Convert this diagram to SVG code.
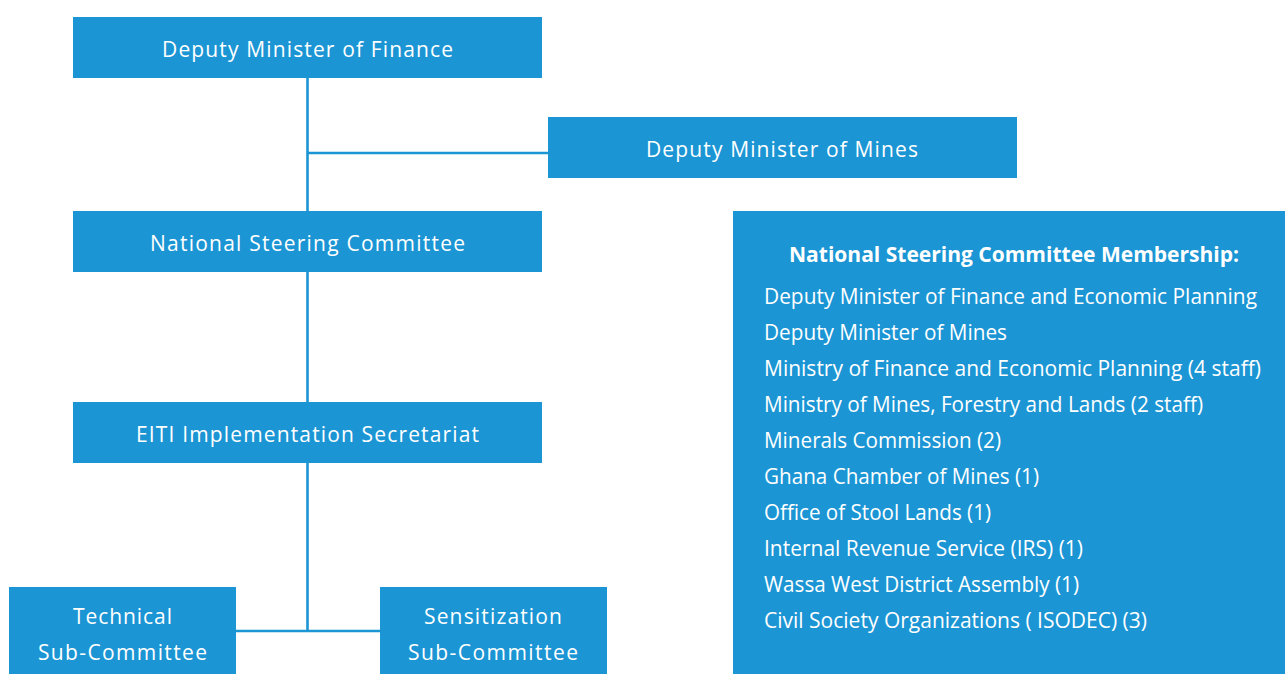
<svg xmlns="http://www.w3.org/2000/svg" width="1285" height="674" viewBox="0 0 1285 674">
<style>
.box{fill:#1b95d4}
.lbl{font-family:"Open Sans","Liberation Sans",sans-serif;font-size:21px;fill:#fff;text-anchor:middle}
.mem{font-family:"Open Sans","Liberation Sans",sans-serif;font-size:21px;fill:#fff}
.ttl{font-family:"Open Sans","Liberation Sans",sans-serif;font-size:21px;font-weight:bold;fill:#fff;text-anchor:middle}
.con{stroke:#1b95d4;stroke-width:2.6;fill:none}
</style>
<rect width="1285" height="674" fill="#fff"/>
<g id="connectors">
<line class="con" x1="307.5" y1="78" x2="307.5" y2="631"/>
<line class="con" x1="307.5" y1="153" x2="548" y2="153"/>
<line class="con" x1="236" y1="631" x2="380" y2="631"/>
</g>
<g id="deputy-finance">
<rect class="box" x="73" y="17" width="469" height="61"/>
<text class="lbl" x="307.5" y="57" textLength="291" lengthAdjust="spacing">Deputy Minister of Finance</text>
</g>
<g id="deputy-mines">
<rect class="box" x="548" y="117" width="469" height="61"/>
<text class="lbl" x="782" y="157" textLength="272" lengthAdjust="spacing">Deputy Minister of Mines</text>
</g>
<g id="nsc">
<rect class="box" x="73" y="211" width="469" height="61"/>
<text class="lbl" x="307.5" y="251" textLength="315" lengthAdjust="spacing">National Steering Committee</text>
</g>
<g id="eiti">
<rect class="box" x="73" y="402" width="469" height="61"/>
<text class="lbl" x="307.5" y="442" textLength="343" lengthAdjust="spacing">EITI Implementation Secretariat</text>
</g>
<g id="technical">
<rect class="box" x="9" y="587" width="227" height="87"/>
<text class="lbl" x="122.5" y="624" textLength="99" lengthAdjust="spacing">Technical</text>
<text class="lbl" x="122.5" y="660" textLength="169" lengthAdjust="spacing">Sub-Committee</text>
</g>
<g id="sensitization">
<rect class="box" x="380" y="587" width="227" height="87"/>
<text class="lbl" x="493" y="624" textLength="138" lengthAdjust="spacing">Sensitization</text>
<text class="lbl" x="493" y="660" textLength="170" lengthAdjust="spacing">Sub-Committee</text>
</g>
<g id="membership">
<rect class="box" x="733" y="211" width="552" height="463"/>
<text class="ttl" x="1014" y="262" textLength="450" lengthAdjust="spacingAndGlyphs">National Steering Committee Membership:</text>
<text class="mem" x="764" y="304" textLength="493" lengthAdjust="spacingAndGlyphs">Deputy Minister of Finance and Economic Planning</text>
<text class="mem" x="764" y="340" textLength="243" lengthAdjust="spacingAndGlyphs">Deputy Minister of Mines</text>
<text class="mem" x="764" y="376" textLength="497" lengthAdjust="spacingAndGlyphs">Ministry of Finance and Economic Planning (4 staff)</text>
<text class="mem" x="764" y="412" textLength="439" lengthAdjust="spacingAndGlyphs">Ministry of Mines, Forestry and Lands (2 staff)</text>
<text class="mem" x="764" y="448" textLength="237" lengthAdjust="spacingAndGlyphs">Minerals Commission (2)</text>
<text class="mem" x="764" y="484" textLength="275" lengthAdjust="spacingAndGlyphs">Ghana Chamber of Mines (1)</text>
<text class="mem" x="764" y="520" textLength="227" lengthAdjust="spacingAndGlyphs">Office of Stool Lands (1)</text>
<text class="mem" x="764" y="556" textLength="319" lengthAdjust="spacingAndGlyphs">Internal Revenue Service (IRS) (1)</text>
<text class="mem" x="764" y="592" textLength="315" lengthAdjust="spacingAndGlyphs">Wassa West District Assembly (1)</text>
<text class="mem" x="764" y="628" textLength="383" lengthAdjust="spacingAndGlyphs">Civil Society Organizations ( ISODEC) (3)</text>
</g>
</svg>
